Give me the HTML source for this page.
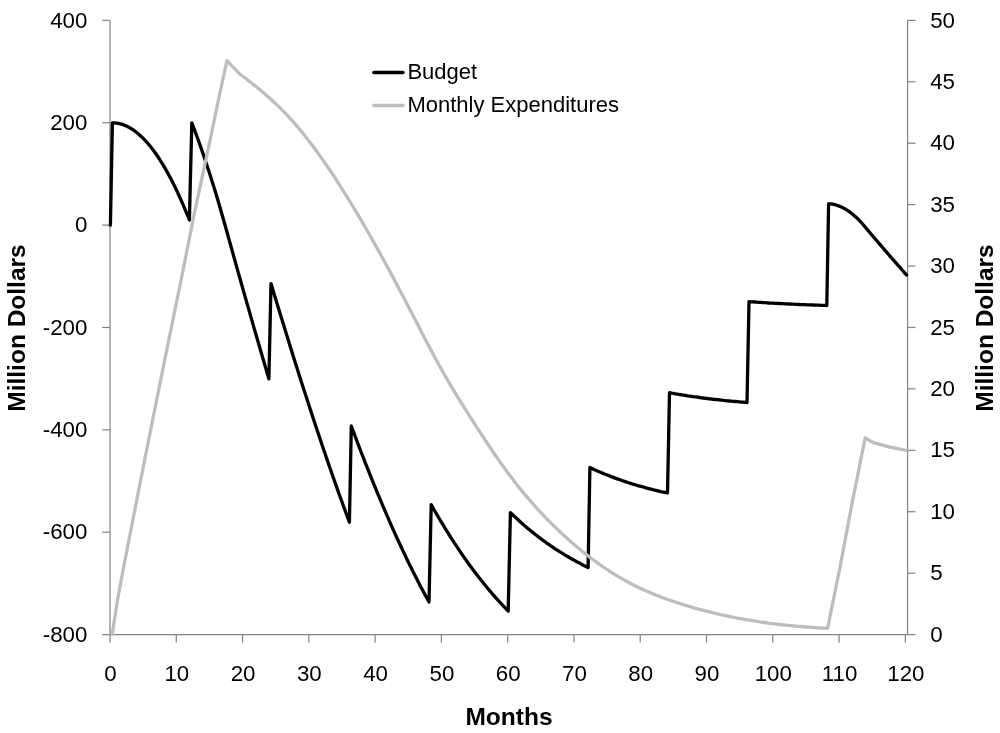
<!DOCTYPE html>
<html lang="en"><head><meta charset="utf-8"><title>Budget and Monthly Expenditures</title>
<style>
html,body{margin:0;padding:0;background:#fff;}
body{width:1000px;height:733px;overflow:hidden;font-family:"Liberation Sans",Arial,Helvetica,sans-serif;}
svg{display:block;}
</style></head><body>
<svg width="1000" height="733" viewBox="0 0 1000 733">
<rect width="1000" height="733" fill="#fff"/>
<g stroke="#868686" stroke-width="1.25" fill="none">
<line x1="110.0" y1="20.4" x2="110.0" y2="634.55"/>
<line x1="907.6" y1="20.4" x2="907.6" y2="634.55"/>
<line x1="102.2" y1="634.55" x2="915.4" y2="634.55"/>
<line x1="102.2" y1="20.40" x2="110.0" y2="20.40"/>
<line x1="102.2" y1="122.76" x2="110.0" y2="122.76"/>
<line x1="102.2" y1="225.12" x2="110.0" y2="225.12"/>
<line x1="102.2" y1="327.47" x2="110.0" y2="327.47"/>
<line x1="102.2" y1="429.83" x2="110.0" y2="429.83"/>
<line x1="102.2" y1="532.19" x2="110.0" y2="532.19"/>
<line x1="907.6" y1="20.40" x2="915.4" y2="20.40"/>
<line x1="907.6" y1="81.81" x2="915.4" y2="81.81"/>
<line x1="907.6" y1="143.23" x2="915.4" y2="143.23"/>
<line x1="907.6" y1="204.64" x2="915.4" y2="204.64"/>
<line x1="907.6" y1="266.06" x2="915.4" y2="266.06"/>
<line x1="907.6" y1="327.47" x2="915.4" y2="327.47"/>
<line x1="907.6" y1="388.89" x2="915.4" y2="388.89"/>
<line x1="907.6" y1="450.31" x2="915.4" y2="450.31"/>
<line x1="907.6" y1="511.72" x2="915.4" y2="511.72"/>
<line x1="907.6" y1="573.13" x2="915.4" y2="573.13"/>
<line x1="110.00" y1="634.55" x2="110.00" y2="642.55"/>
<line x1="176.28" y1="634.55" x2="176.28" y2="642.55"/>
<line x1="242.56" y1="634.55" x2="242.56" y2="642.55"/>
<line x1="308.84" y1="634.55" x2="308.84" y2="642.55"/>
<line x1="375.12" y1="634.55" x2="375.12" y2="642.55"/>
<line x1="441.40" y1="634.55" x2="441.40" y2="642.55"/>
<line x1="507.68" y1="634.55" x2="507.68" y2="642.55"/>
<line x1="573.96" y1="634.55" x2="573.96" y2="642.55"/>
<line x1="640.24" y1="634.55" x2="640.24" y2="642.55"/>
<line x1="706.52" y1="634.55" x2="706.52" y2="642.55"/>
<line x1="772.80" y1="634.55" x2="772.80" y2="642.55"/>
<line x1="839.08" y1="634.55" x2="839.08" y2="642.55"/>
<line x1="905.36" y1="634.55" x2="905.36" y2="642.55"/>
</g>
<g font-family="'Liberation Sans', Arial, Helvetica, sans-serif" font-size="22.3" fill="#000">
<text x="87.4" y="27.5" text-anchor="end">400</text>
<text x="87.4" y="129.9" text-anchor="end">200</text>
<text x="87.4" y="232.2" text-anchor="end">0</text>
<text x="87.4" y="334.6" text-anchor="end">-200</text>
<text x="87.4" y="436.9" text-anchor="end">-400</text>
<text x="87.4" y="539.3" text-anchor="end">-600</text>
<text x="87.4" y="641.6" text-anchor="end">-800</text>
<text x="930.2" y="27.5">50</text>
<text x="930.2" y="88.9">45</text>
<text x="930.2" y="150.3">40</text>
<text x="930.2" y="211.7">35</text>
<text x="930.2" y="273.2">30</text>
<text x="930.2" y="334.6">25</text>
<text x="930.2" y="396.0">20</text>
<text x="930.2" y="457.4">15</text>
<text x="930.2" y="518.8">10</text>
<text x="930.2" y="580.2">5</text>
<text x="930.2" y="641.6">0</text>
<text x="110.5" y="681" text-anchor="middle">0</text>
<text x="176.8" y="681" text-anchor="middle">10</text>
<text x="243.1" y="681" text-anchor="middle">20</text>
<text x="309.3" y="681" text-anchor="middle">30</text>
<text x="375.6" y="681" text-anchor="middle">40</text>
<text x="441.9" y="681" text-anchor="middle">50</text>
<text x="508.2" y="681" text-anchor="middle">60</text>
<text x="574.5" y="681" text-anchor="middle">70</text>
<text x="640.7" y="681" text-anchor="middle">80</text>
<text x="707.0" y="681" text-anchor="middle">90</text>
<text x="773.3" y="681" text-anchor="middle">100</text>
<text x="839.6" y="681" text-anchor="middle">110</text>
<text x="905.9" y="681" text-anchor="middle">120</text>
<text x="407.4" y="79" font-size="22">Budget</text>
<text x="407.4" y="112" font-size="22">Monthly Expenditures</text>
</g>
<g font-family="'Liberation Sans', Arial, Helvetica, sans-serif" font-size="24.5" font-weight="bold" fill="#000">
<text x="509" y="725" text-anchor="middle">Months</text>
<text transform="translate(25.3,328) rotate(-90)" text-anchor="middle">Million Dollars</text>
<text transform="translate(993.2,328) rotate(-90)" text-anchor="middle">Million Dollars</text>
</g>
<line x1="373.8" y1="72.5" x2="403" y2="72.5" stroke="#000" stroke-width="3.3" stroke-linecap="round"/>
<line x1="373.8" y1="105.5" x2="403" y2="105.5" stroke="#bdbdbd" stroke-width="3.3" stroke-linecap="round"/>
<polyline points="110.4,225.2 112.4,122.8 114.4,122.9 116.4,123.1 118.4,123.4 120.4,123.8 122.4,124.4 124.4,125.2 126.4,126.0 128.4,127.0 130.4,128.1 132.4,129.4 134.4,130.7 136.4,132.2 138.4,133.9 140.4,135.7 142.4,137.6 144.4,139.6 146.4,141.8 148.4,144.0 150.4,146.5 152.4,149.0 154.4,151.7 156.4,154.5 158.4,157.5 160.4,160.6 162.4,163.8 164.4,167.1 166.4,170.6 168.4,174.2 170.4,177.9 172.4,181.8 174.4,185.8 176.4,189.9 178.4,194.2 180.4,198.6 182.4,203.1 184.4,207.8 186.4,212.6 188.4,217.5 189.4,220.0 191.8,122.8 193.8,128.0 195.8,133.4 197.8,138.8 199.8,144.4 201.8,150.1 203.8,155.9 205.8,161.9 207.8,167.9 209.8,174.1 211.8,180.4 213.8,186.8 215.8,193.3 217.8,200.0 219.8,206.8 221.8,213.7 223.8,220.7 225.8,227.8 227.8,235.0 229.8,242.2 231.8,249.4 233.8,256.6 235.8,263.8 237.8,270.9 239.8,278.0 241.8,285.0 243.8,292.1 245.8,299.1 247.8,306.1 249.8,313.1 251.8,320.1 253.8,327.1 255.8,334.0 257.8,340.9 259.8,347.8 261.8,354.7 263.8,361.5 265.8,368.4 267.8,375.2 268.9,378.9 271.0,283.6 273.0,290.2 275.0,296.9 277.0,303.5 279.0,310.0 281.0,316.6 283.0,323.1 285.0,329.6 287.0,336.1 289.0,342.6 291.0,349.0 293.0,355.4 295.0,361.7 297.0,368.1 299.0,374.4 301.0,380.7 303.0,386.9 305.0,393.1 307.0,399.3 309.0,405.5 311.0,411.6 313.0,417.7 315.0,423.8 317.0,429.8 319.0,435.8 321.0,441.7 323.0,447.7 325.0,453.5 327.0,459.4 329.0,465.2 331.0,471.0 333.0,476.7 335.0,482.4 337.0,488.1 339.0,493.7 341.0,499.3 343.0,504.8 345.0,510.3 347.0,515.8 349.0,521.2 349.4,522.3 351.3,426.0 353.3,431.4 355.3,436.7 357.3,442.0 359.3,447.3 361.3,452.5 363.3,457.6 365.3,462.8 367.3,467.8 369.3,472.9 371.3,477.9 373.3,482.8 375.3,487.7 377.3,492.6 379.3,497.4 381.3,502.2 383.3,506.9 385.3,511.6 387.3,516.2 389.3,520.8 391.3,525.3 393.3,529.8 395.3,534.3 397.3,538.7 399.3,543.0 401.3,547.3 403.3,551.6 405.3,555.8 407.3,560.0 409.3,564.1 411.3,568.1 413.3,572.2 415.3,576.1 417.3,580.0 419.3,583.9 421.3,587.7 423.3,591.5 425.3,595.2 427.3,598.9 429.0,602.0 431.2,504.6 433.2,508.2 435.2,511.7 437.2,515.1 439.2,518.5 441.2,521.9 443.2,525.2 445.2,528.5 447.2,531.7 449.2,534.9 451.2,538.1 453.2,541.2 455.2,544.2 457.2,547.2 459.2,550.2 461.2,553.2 463.2,556.1 465.2,558.9 467.2,561.7 469.2,564.5 471.2,567.2 473.2,569.9 475.2,572.6 477.2,575.2 479.2,577.8 481.2,580.3 483.2,582.8 485.2,585.3 487.2,587.7 489.2,590.1 491.2,592.5 493.2,594.8 495.2,597.1 497.2,599.3 499.2,601.5 501.2,603.7 503.2,605.8 505.2,607.9 507.2,610.0 508.2,611.0 510.4,512.6 512.4,514.5 514.4,516.4 516.4,518.3 518.4,520.1 520.4,521.9 522.4,523.7 524.4,525.5 526.4,527.2 528.4,528.9 530.4,530.5 532.4,532.1 534.4,533.7 536.4,535.3 538.4,536.9 540.4,538.4 542.4,539.9 544.4,541.3 546.4,542.8 548.4,544.2 550.4,545.6 552.4,546.9 554.4,548.3 556.4,549.6 558.4,550.9 560.4,552.2 562.4,553.4 564.4,554.6 566.4,555.8 568.4,557.0 570.4,558.2 572.4,559.3 574.4,560.4 576.4,561.5 578.4,562.6 580.4,563.6 582.4,564.7 584.4,565.7 586.4,566.7 588.1,567.5 589.9,467.5 591.9,468.4 593.9,469.4 595.9,470.3 597.9,471.2 599.9,472.0 601.9,472.9 603.9,473.7 605.9,474.5 607.9,475.3 609.9,476.1 611.9,476.9 613.9,477.6 615.9,478.4 617.9,479.1 619.9,479.8 621.9,480.5 623.9,481.2 625.9,481.8 627.9,482.5 629.9,483.1 631.9,483.8 633.9,484.4 635.9,485.0 637.9,485.6 639.9,486.1 641.9,486.7 643.9,487.2 645.9,487.8 647.9,488.3 649.9,488.8 651.9,489.4 653.9,489.9 655.9,490.3 657.9,490.8 659.9,491.3 661.9,491.8 663.9,492.2 665.9,492.7 667.5,493.0 669.5,392.7 671.5,393.1 673.5,393.4 675.5,393.8 677.5,394.1 679.5,394.5 681.5,394.8 683.5,395.1 685.5,395.4 687.5,395.8 689.5,396.1 691.5,396.4 693.5,396.7 695.5,396.9 697.5,397.2 699.5,397.5 701.5,397.8 703.5,398.0 705.5,398.3 707.5,398.5 709.5,398.8 711.5,399.0 713.5,399.3 715.5,399.5 717.5,399.7 719.5,399.9 721.5,400.1 723.5,400.4 725.5,400.6 727.5,400.8 729.5,401.0 731.5,401.2 733.5,401.3 735.5,401.5 737.5,401.7 739.5,401.9 741.5,402.1 743.5,402.2 745.5,402.4 747.0,402.5 749.0,301.6 751.0,301.8 753.0,301.9 755.0,302.0 757.0,302.2 759.0,302.3 761.0,302.4 763.0,302.6 765.0,302.7 767.0,302.8 769.0,303.0 771.0,303.1 773.0,303.2 775.0,303.3 777.0,303.4 779.0,303.5 781.0,303.6 783.0,303.7 785.0,303.8 787.0,303.9 789.0,304.0 791.0,304.1 793.0,304.2 795.0,304.3 797.0,304.4 799.0,304.5 801.0,304.6 803.0,304.6 805.0,304.7 807.0,304.8 809.0,304.9 811.0,304.9 813.0,305.0 815.0,305.1 817.0,305.2 819.0,305.2 821.0,305.3 823.0,305.4 825.0,305.4 826.8,305.5 828.6,203.7 830.6,203.9 832.6,204.2 834.6,204.6 836.6,205.2 838.6,205.9 840.6,206.7 842.6,207.6 844.6,208.7 846.6,209.9 848.6,211.2 850.6,212.6 852.6,214.2 854.6,215.9 856.6,217.7 858.6,219.7 860.6,221.8 862.6,224.0 864.6,226.3 866.6,228.7 868.6,231.1 870.6,233.5 872.6,235.8 874.6,238.2 876.6,240.5 878.6,242.9 880.6,245.2 882.6,247.5 884.6,249.9 886.6,252.2 888.6,254.5 890.6,256.8 892.6,259.1 894.6,261.4 896.6,263.7 898.6,265.9 900.6,268.2 902.6,270.5 904.6,272.8 906.5,274.9" fill="none" stroke="#000" stroke-width="3.3" stroke-linejoin="round" stroke-linecap="round"/>
<polyline points="112.2,634.2 117.7,598.6 123.5,568.0 138.1,493.1 152.0,423.0 166.1,353.1 180.5,283.0 194.4,213.1 210.1,140.0 218.4,100.0 227.0,60.7 231.8,65.9 239.5,73.7 242.5,76.0 245.5,78.3 248.5,80.7 251.5,83.0 254.5,85.4 257.5,87.8 260.5,90.3 263.5,92.8 266.5,95.4 269.5,98.1 272.5,100.8 275.5,103.6 278.5,106.4 281.5,109.4 284.5,112.4 287.5,115.6 290.5,118.8 293.5,122.1 296.5,125.6 299.5,129.1 302.5,132.8 305.5,136.5 308.5,140.4 311.5,144.3 314.5,148.3 317.5,152.4 320.5,156.6 323.5,160.9 326.5,165.2 329.5,169.6 332.5,174.1 335.5,178.7 338.5,183.4 341.5,188.1 344.5,192.8 347.5,197.7 350.5,202.5 353.5,207.5 356.5,212.5 359.5,217.5 362.5,222.6 365.5,227.8 368.5,233.0 371.5,238.3 374.5,243.6 377.5,248.9 380.5,254.3 383.5,259.8 386.5,265.3 389.5,270.8 392.5,276.4 395.5,282.0 398.5,287.7 401.5,293.4 404.5,299.1 407.5,304.9 410.5,310.7 413.5,316.5 416.5,322.3 419.5,328.1 422.5,333.9 425.5,339.7 428.5,345.4 431.5,351.1 434.5,356.7 437.5,362.2 440.5,367.6 443.5,373.0 446.5,378.2 449.5,383.3 452.5,388.4 455.5,393.4 458.5,398.3 461.5,403.2 464.5,408.0 467.5,412.7 470.5,417.5 473.5,422.1 476.5,426.8 479.5,431.4 482.5,436.0 485.5,440.6 488.5,445.1 491.5,449.5 494.5,454.0 497.5,458.3 500.5,462.6 503.5,466.8 506.5,471.0 509.5,475.0 512.5,479.0 515.5,482.9 518.5,486.7 521.5,490.4 524.5,494.1 527.5,497.6 530.5,501.1 533.5,504.5 536.5,507.9 539.5,511.2 542.5,514.4 545.5,517.5 548.5,520.6 551.5,523.6 554.5,526.5 557.5,529.4 560.5,532.3 563.5,535.1 566.5,537.8 569.5,540.5 572.5,543.1 575.5,545.7 578.5,548.2 581.5,550.7 584.5,553.1 587.5,555.4 590.5,557.8 593.5,560.0 596.5,562.2 599.5,564.4 602.5,566.5 605.5,568.5 608.5,570.5 611.5,572.4 614.5,574.3 617.5,576.1 620.5,577.9 623.5,579.6 626.5,581.2 629.5,582.9 632.5,584.4 635.5,585.9 638.5,587.4 641.5,588.8 644.5,590.2 647.5,591.5 650.5,592.8 653.5,594.1 656.5,595.3 659.5,596.4 662.5,597.6 665.5,598.7 668.5,599.8 671.5,600.8 674.5,601.8 677.5,602.8 680.5,603.8 683.5,604.7 686.5,605.6 689.5,606.5 692.5,607.4 695.5,608.3 698.5,609.1 701.5,609.9 704.5,610.7 707.5,611.4 710.5,612.2 713.5,612.9 716.5,613.6 719.5,614.3 722.5,615.0 725.5,615.7 728.5,616.3 731.5,616.9 734.5,617.5 737.5,618.1 740.5,618.6 743.5,619.2 746.5,619.7 749.5,620.2 752.5,620.7 755.5,621.2 758.5,621.7 761.5,622.1 764.5,622.5 767.5,623.0 770.5,623.4 773.5,623.7 776.5,624.1 779.5,624.5 782.5,624.8 785.5,625.1 788.5,625.4 791.5,625.7 794.5,626.0 797.5,626.3 800.5,626.5 803.5,626.8 806.5,627.0 809.5,627.2 812.5,627.4 815.5,627.6 818.5,627.8 821.5,628.0 824.5,628.1 827.5,628.3 827.6,628.4 840.2,566.2 852.3,502.0 865.2,437.8 869.0,440.2 874.5,442.9 890.0,447.1 906.1,450.3" fill="none" stroke="#bdbdbd" stroke-width="3.3" stroke-linejoin="round" stroke-linecap="round"/>
</svg>
</body></html>
